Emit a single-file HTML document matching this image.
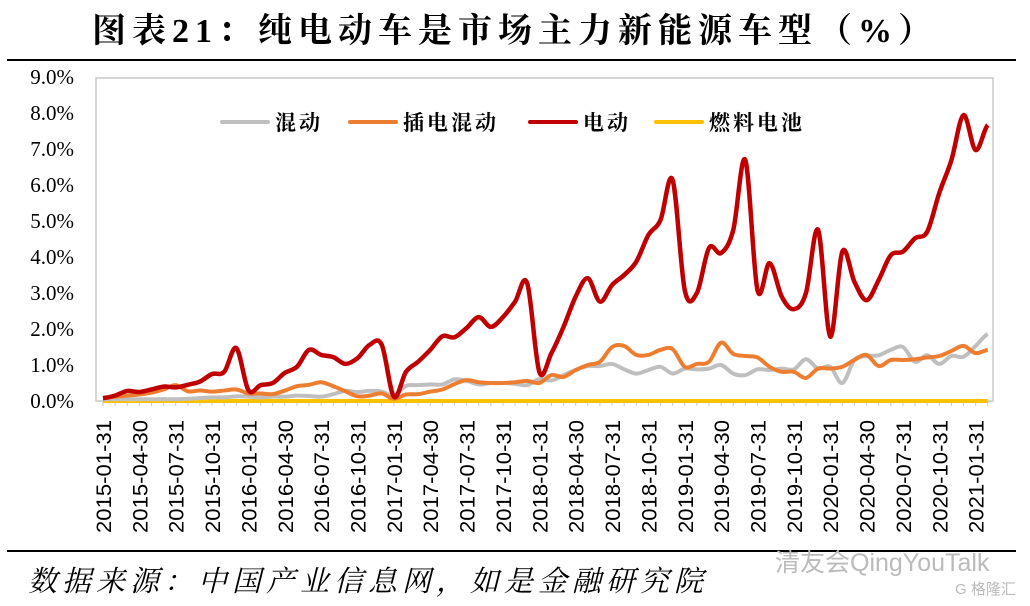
<!DOCTYPE html>
<html><head><meta charset="utf-8"><style>
body{margin:0;background:#fff;width:1030px;height:606px;overflow:hidden;position:relative;font-family:"Liberation Serif","Noto Serif CJK SC",serif}
#title{position:absolute;left:0;width:1030px;top:3px;text-align:center;font-size:34px;font-weight:bold;letter-spacing:6px;font-family:"Liberation Serif","Noto Serif CJK SC",serif}
#src{position:absolute;left:28px;top:559px;font-size:29px;letter-spacing:5px;font-style:italic;font-family:"Liberation Serif","Noto Serif CJK SC",serif}
</style></head><body>
<div id="title">图表21：纯电动车是市场主力新能源车型（%）</div>
<svg id="chart" width="1030" height="606" style="position:absolute;left:0;top:0"></svg>
<div id="src">数据来源：中国产业信息网，如是金融研究院</div>
<div style="position:absolute;left:775px;top:543px;font-size:25px;color:#bbb;font-family:'Liberation Sans','Noto Sans CJK SC',sans-serif">清友会QingYouTalk</div>
<div style="position:absolute;left:955px;top:578px;font-size:15px;color:#bbb;font-family:'Liberation Sans','Noto Sans CJK SC',sans-serif">G 格隆汇</div>
<script>
const ev=[0.08,0.15,0.28,0.25,0.32,0.40,0.38,0.45,0.54,0.75,0.81,1.47,0.30,0.44,0.50,0.78,0.95,1.42,1.28,1.22,1.03,1.19,1.56,1.56,0.12,0.81,1.09,1.42,1.80,1.77,2.03,2.33,2.06,2.33,2.76,3.27,0.81,1.33,2.06,2.90,3.41,2.76,3.22,3.50,3.87,4.61,5.03,6.14,3.08,3.00,4.25,4.11,4.75,6.69,3.08,3.83,2.90,2.55,3.00,4.75,1.79,4.15,3.31,2.80,3.36,4.05,4.15,4.52,4.70,5.78,6.69,7.94,6.97,7.67];
const phev=[0.08,0.12,0.15,0.18,0.23,0.32,0.44,0.27,0.29,0.26,0.29,0.32,0.21,0.21,0.19,0.29,0.41,0.45,0.52,0.41,0.27,0.13,0.15,0.21,0.06,0.18,0.19,0.26,0.32,0.47,0.58,0.52,0.50,0.50,0.52,0.56,0.50,0.72,0.67,0.86,1.00,1.09,1.50,1.53,1.28,1.28,1.42,1.44,0.95,1.03,1.09,1.62,1.31,1.25,1.21,0.95,0.81,0.81,0.64,0.90,0.90,0.95,1.14,1.28,0.97,1.14,1.14,1.16,1.21,1.25,1.39,1.53,1.33,1.42];
const hev=[0.05,0.05,0.05,0.05,0.05,0.05,0.05,0.06,0.08,0.10,0.10,0.13,0.12,0.10,0.12,0.12,0.15,0.14,0.12,0.19,0.28,0.25,0.28,0.26,0.15,0.42,0.44,0.46,0.46,0.60,0.56,0.46,0.50,0.50,0.48,0.44,0.61,0.57,0.72,0.86,0.97,0.97,1.03,0.88,0.76,0.86,0.95,0.76,0.90,0.88,0.90,1.00,0.76,0.72,0.88,0.86,0.90,0.88,1.16,0.90,0.95,0.50,1.14,1.25,1.27,1.42,1.50,1.09,1.27,1.03,1.25,1.23,1.53,1.86];
const fcev=new Array(74).fill(0);
const yTicks=["0.0%","1.0%","2.0%","3.0%","4.0%","5.0%","6.0%","7.0%","8.0%","9.0%"];
const xLabels=["2015-01-31","2015-04-30","2015-07-31","2015-10-31","2016-01-31","2016-04-30","2016-07-31","2016-10-31","2017-01-31","2017-04-30","2017-07-31","2017-10-31","2018-01-31","2018-04-30","2018-07-31","2018-10-31","2019-01-31","2019-04-30","2019-07-31","2019-10-31","2020-01-31","2020-04-30","2020-07-31","2020-10-31","2021-01-31"];
const legendNames=["混动","插电混动","电动","燃料电池"];
const colors=["#bfbfbf","#ed7d31","#c00000","#ffc000"];
const svg=document.getElementById('chart');const NS="http://www.w3.org/2000/svg";
function mk(t,a,p){const e=document.createElementNS(NS,t);for(const k in a)e.setAttribute(k,a[k]);(p||svg).appendChild(e);return e;}
const x=i=>103+i*12.12, y=v=>401-v*36;
let r=mk('line',{x1:7,y1:60,x2:1016,y2:60,stroke:'#000','stroke-width':2});


r=mk('line',{x1:7,y1:551,x2:1016,y2:551,stroke:'#000','stroke-width':2});


const fr=mk('rect',{x:96,y:78,width:897,height:323,fill:'none',stroke:'#c8c8c8','stroke-width':1.5});


yTicks.forEach((t,i)=>{const e=mk('text',{x:74,y:y(i)+7,'text-anchor':'end','font-size':21,'font-family':'Liberation Serif, serif'});e.textContent=t;

});
for(let i=0;i<74;i++){const e=mk('line',{x1:x(i),y1:401,x2:x(i),y2:406,stroke:'#c8c8c8'});

}
xLabels.forEach((t,k)=>{const px=x(k*3)+8;const e=mk('text',{x:0,y:0,transform:`translate(${px},420) rotate(-90)`,'text-anchor':'end','font-size':21,'font-family':'Liberation Sans, sans-serif','textLength':113,'lengthAdjust':'spacingAndGlyphs'});e.textContent=t;

});
function path(d){let s="M"+x(0)+","+y(d[0]);for(let i=1;i<d.length;i++){const x0=x(i-1),x1=x(i),y0=y(d[i-1]),y1=y(d[i]);const pm=i>1?y(d[i-2]):y0,nx=i<d.length-1?y(d[i+1]):y1;const c1y=y0+(y1-pm)/6,c2y=y1-(nx-y0)/6;s+=` C${x0+4.04},${c1y} ${x1-4.04},${c2y} ${x1},${y1}`;}return s;}
const series=[hev,phev,ev,fcev];const snames=['series-hev','series-phev','series-ev','series-fcev'];
[3,0,1,2].forEach(k=>{const e=mk('path',{d:path(series[k]),fill:'none',stroke:colors[k],'stroke-width':k==2?4.5:4,'stroke-linejoin':'round'});

});
const lx=[222,350,530,656],tw=[46,46,46,46];
legendNames.forEach((n,k)=>{const g=mk('g',{});


mk('line',{x1:lx[k],y1:122,x2:lx[k]+tw[k],y2:122,stroke:colors[k],'stroke-width':4,'stroke-linecap':'round'},g);
const t=mk('text',{x:lx[k]+53,y:130,'font-size':21,'font-weight':'bold','font-family':'Liberation Serif, Noto Serif CJK SC, serif','letter-spacing':3},g);t.textContent=n;});
</script>
</body></html>
